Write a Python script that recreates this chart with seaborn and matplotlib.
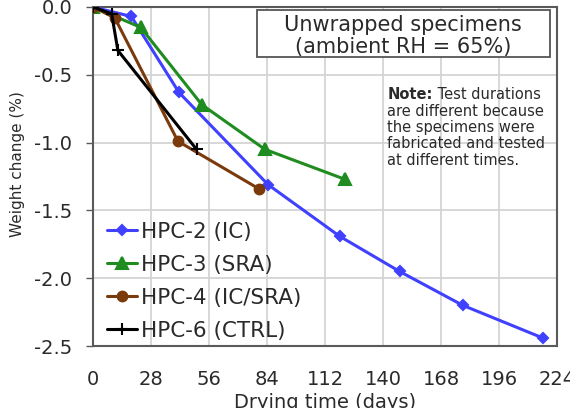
import matplotlib
matplotlib.use("Agg")
import matplotlib.pyplot as plt
import seaborn as sns
import pandas as pd
from matplotlib.patches import Rectangle

# ---- data ----
hpc2_days = [0, 18.5, 41.5, 84.5, 119, 148, 178.5, 217]
hpc2_wc = [0.0, -0.07, -0.63, -1.31, -1.69, -1.95, -2.20, -2.44]

hpc3_days = [0, 23, 52.5, 83, 121.5]
hpc3_wc = [0.0, -0.15, -0.72, -1.05, -1.27]

hpc4_days = [0, 10.5, 41, 80]
hpc4_wc = [0.0, -0.08, -0.99, -1.34]

hpc6_days = [0, 9, 12, 50]
hpc6_wc = [0.0, -0.05, -0.32, -1.05]

series_names = ["HPC-2 (IC)", "HPC-3 (SRA)", "HPC-4 (IC/SRA)", "HPC-6 (CTRL)"]
x_ticks = [0, 28, 56, 84, 112, 140, 168, 196, 224]
y_ticks = [0.0, -0.5, -1.0, -1.5, -2.0, -2.5]
y_tick_labels = ["0.0", "-0.5", "-1.0", "-1.5", "-2.0", "-2.5"]

frames = []
for name, d, w in zip(series_names,
                      [hpc2_days, hpc3_days, hpc4_days, hpc6_days],
                      [hpc2_wc, hpc3_wc, hpc4_wc, hpc6_wc]):
    frames.append(pd.DataFrame({"days": d, "wc": w, "series": name}))
df = pd.concat(frames, ignore_index=True)

sns.set_theme(style="white")
plt.rcParams["font.family"] = ["DejaVu Sans"]
txt_color = "#2a2a2a"

fig = plt.figure(figsize=(5.7, 4.08), dpi=100)
ax = fig.add_axes([93 / 570, 1 - 346 / 408, 464 / 570, 339 / 408])

palette = {"HPC-2 (IC)": "#4040ff", "HPC-3 (SRA)": "#1f8c1f",
           "HPC-4 (IC/SRA)": "#7a3a0c", "HPC-6 (CTRL)": "#000000"}
markers = {"HPC-2 (IC)": "D", "HPC-3 (SRA)": "^",
           "HPC-4 (IC/SRA)": "o", "HPC-6 (CTRL)": "+"}
sizes_ms = {"HPC-2 (IC)": 5, "HPC-3 (SRA)": 8, "HPC-4 (IC/SRA)": 7, "HPC-6 (CTRL)": 9}

for name in series_names:
    sub = df[df["series"] == name]
    sns.lineplot(data=sub, x="days", y="wc", ax=ax, color=palette[name],
                 marker=markers[name], markersize=sizes_ms[name],
                 markeredgecolor=palette[name], markeredgewidth=1.5,
                 linewidth=2.2, sort=False, label=name, zorder=3)

ax.set_xlim(0, 224)
ax.set_ylim(-2.5, 0.0)
ax.set_xticks(x_ticks)
ax.set_xticklabels([str(t) for t in x_ticks], fontsize=14, color=txt_color)
ax.set_yticks(y_ticks)
ax.set_yticklabels(y_tick_labels, fontsize=14, color=txt_color)
ax.grid(True, color="#d4d4d4", linewidth=1.3)
ax.set_axisbelow(True)
for sp in ax.spines.values():
    sp.set_color("#5a5a5a")
    sp.set_linewidth(1.5)
ax.tick_params(axis="y", left=True, length=5, width=1, color="#5a5a5a", pad=10)
ax.tick_params(axis="x", bottom=False, top=False, pad=11)

ax.set_xlabel("Drying time (days)", fontsize=14, labelpad=3, color=txt_color)
ax.set_ylabel("Weight change (%)", fontsize=11, color=txt_color)
ax.yaxis.set_label_coords(-0.147, 0.537)

leg = ax.legend(loc="lower left", bbox_to_anchor=(0.012, -0.01), frameon=False,
                fontsize=15.5, handlelength=1.4, handletextpad=0.15,
                labelspacing=0.6, borderaxespad=0.0, labelcolor=txt_color)

# Title box
ax.add_patch(Rectangle((0.353, 0.853), 0.632, 0.138, transform=ax.transAxes,
                       facecolor="white", edgecolor="#555555", linewidth=1.3,
                       zorder=5))
ax.text(0.668, 0.914, "Unwrapped specimens\n(ambient RH = 65%)",
        transform=ax.transAxes, ha="center", va="center", fontsize=15,
        linespacing=1.1, zorder=6, color=txt_color)

# Note
t1 = ax.text(0.634, 0.729, "Note:", transform=ax.transAxes, ha="left",
             va="baseline", fontsize=10.5, fontweight="bold", zorder=6,
             color=txt_color)
ax.annotate(" Test durations", xy=(1, 0), xycoords=t1, ha="left", va="bottom",
            fontsize=10.5, zorder=6, color=txt_color)
ax.annotate("are different because\nthe specimens were\nfabricated and tested\nat different times.",
            xy=(0, 0), xycoords=t1, xytext=(0, -1.5), textcoords="offset points",
            ha="left", va="top", fontsize=10.5,
            linespacing=1.1, zorder=6, color=txt_color)

fig.savefig("out.png", dpi=100)
